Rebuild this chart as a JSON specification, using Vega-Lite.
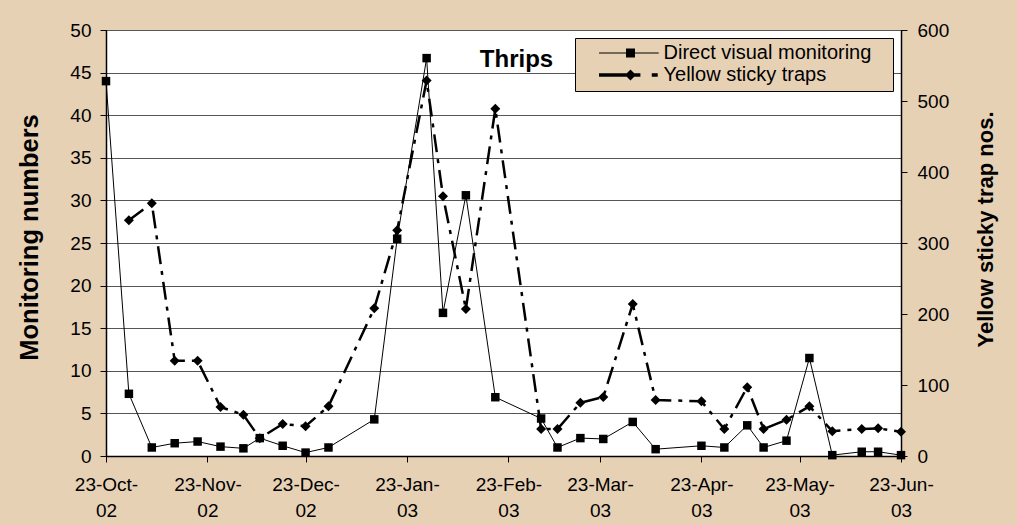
{
  "$schema": "https://vega.github.io/schema/vega-lite/v6.json",
  "width": 795,
  "height": 426,
  "autosize": {"type": "none"},
  "padding": {"left": 106, "top": 30, "right": 116, "bottom": 69},
  "background": "#E7D1B5",
  "config": {
    "font": "Liberation Sans",
    "view": {"fill": "#FFFFFF", "stroke": "#000000", "strokeWidth": 1},
    "axis": {
      "labelFont": "Liberation Sans", "labelFontSize": 19, "labelColor": "#000000",
      "tickColor": "#000000", "domainColor": "#000000", "domainWidth": 1.5, "tickSize": 6, "tickWidth": 1,
      "titleFont": "Liberation Sans", "titleFontSize": 22, "titleFontWeight": "bold", "titleColor": "#000000",
      "labelFlush": false, "labelOverlap": false
    }
  },
  "title": {
    "text": "Thrips", "anchor": "middle", "dx": 13, "offset": -70, "fontSize": 24,
    "font": "Liberation Sans", "fontWeight": "bold", "color": "#000000", "baseline": "alphabetic", "frame": "group"
  },
  "data": {"values": [
    {"date": "2002-10-23", "series": "Direct visual monitoring", "value": 44},
    {"date": "2002-10-30", "series": "Direct visual monitoring", "value": 7.3},
    {"date": "2002-11-06", "series": "Direct visual monitoring", "value": 1.0},
    {"date": "2002-11-13", "series": "Direct visual monitoring", "value": 1.5},
    {"date": "2002-11-20", "series": "Direct visual monitoring", "value": 1.7},
    {"date": "2002-11-27", "series": "Direct visual monitoring", "value": 1.1},
    {"date": "2002-12-04", "series": "Direct visual monitoring", "value": 0.9},
    {"date": "2002-12-09", "series": "Direct visual monitoring", "value": 2.1},
    {"date": "2002-12-16", "series": "Direct visual monitoring", "value": 1.2},
    {"date": "2002-12-23", "series": "Direct visual monitoring", "value": 0.4},
    {"date": "2002-12-30", "series": "Direct visual monitoring", "value": 1.0},
    {"date": "2003-01-13", "series": "Direct visual monitoring", "value": 4.3},
    {"date": "2003-01-20", "series": "Direct visual monitoring", "value": 25.5},
    {"date": "2003-01-29", "series": "Direct visual monitoring", "value": 46.7},
    {"date": "2003-02-03", "series": "Direct visual monitoring", "value": 16.8},
    {"date": "2003-02-10", "series": "Direct visual monitoring", "value": 30.6},
    {"date": "2003-02-19", "series": "Direct visual monitoring", "value": 6.9},
    {"date": "2003-03-05", "series": "Direct visual monitoring", "value": 4.4},
    {"date": "2003-03-10", "series": "Direct visual monitoring", "value": 1.0},
    {"date": "2003-03-17", "series": "Direct visual monitoring", "value": 2.1},
    {"date": "2003-03-24", "series": "Direct visual monitoring", "value": 2.0},
    {"date": "2003-04-02", "series": "Direct visual monitoring", "value": 4.0},
    {"date": "2003-04-09", "series": "Direct visual monitoring", "value": 0.8},
    {"date": "2003-04-23", "series": "Direct visual monitoring", "value": 1.2},
    {"date": "2003-04-30", "series": "Direct visual monitoring", "value": 1.0},
    {"date": "2003-05-07", "series": "Direct visual monitoring", "value": 3.6},
    {"date": "2003-05-12", "series": "Direct visual monitoring", "value": 1.0},
    {"date": "2003-05-19", "series": "Direct visual monitoring", "value": 1.8},
    {"date": "2003-05-26", "series": "Direct visual monitoring", "value": 11.5},
    {"date": "2003-06-02", "series": "Direct visual monitoring", "value": 0.1},
    {"date": "2003-06-11", "series": "Direct visual monitoring", "value": 0.5},
    {"date": "2003-06-16", "series": "Direct visual monitoring", "value": 0.5},
    {"date": "2003-06-23", "series": "Direct visual monitoring", "value": 0.1},
    {"date": "2002-10-30", "series": "Yellow sticky traps", "value": 332},
    {"date": "2002-11-06", "series": "Yellow sticky traps", "value": 356},
    {"date": "2002-11-13", "series": "Yellow sticky traps", "value": 134},
    {"date": "2002-11-20", "series": "Yellow sticky traps", "value": 134},
    {"date": "2002-11-27", "series": "Yellow sticky traps", "value": 69},
    {"date": "2002-12-04", "series": "Yellow sticky traps", "value": 58},
    {"date": "2002-12-09", "series": "Yellow sticky traps", "value": 25},
    {"date": "2002-12-16", "series": "Yellow sticky traps", "value": 45},
    {"date": "2002-12-23", "series": "Yellow sticky traps", "value": 42},
    {"date": "2002-12-30", "series": "Yellow sticky traps", "value": 70},
    {"date": "2003-01-13", "series": "Yellow sticky traps", "value": 208},
    {"date": "2003-01-20", "series": "Yellow sticky traps", "value": 318},
    {"date": "2003-01-29", "series": "Yellow sticky traps", "value": 529},
    {"date": "2003-02-03", "series": "Yellow sticky traps", "value": 366},
    {"date": "2003-02-10", "series": "Yellow sticky traps", "value": 207},
    {"date": "2003-02-19", "series": "Yellow sticky traps", "value": 489},
    {"date": "2003-03-05", "series": "Yellow sticky traps", "value": 38},
    {"date": "2003-03-10", "series": "Yellow sticky traps", "value": 38},
    {"date": "2003-03-17", "series": "Yellow sticky traps", "value": 75},
    {"date": "2003-03-24", "series": "Yellow sticky traps", "value": 83},
    {"date": "2003-04-02", "series": "Yellow sticky traps", "value": 214},
    {"date": "2003-04-09", "series": "Yellow sticky traps", "value": 79},
    {"date": "2003-04-23", "series": "Yellow sticky traps", "value": 77},
    {"date": "2003-04-30", "series": "Yellow sticky traps", "value": 38},
    {"date": "2003-05-07", "series": "Yellow sticky traps", "value": 97},
    {"date": "2003-05-12", "series": "Yellow sticky traps", "value": 38},
    {"date": "2003-05-19", "series": "Yellow sticky traps", "value": 51},
    {"date": "2003-05-26", "series": "Yellow sticky traps", "value": 70},
    {"date": "2003-06-02", "series": "Yellow sticky traps", "value": 35},
    {"date": "2003-06-11", "series": "Yellow sticky traps", "value": 38},
    {"date": "2003-06-16", "series": "Yellow sticky traps", "value": 39},
    {"date": "2003-06-23", "series": "Yellow sticky traps", "value": 34}
  ]},
  "encoding": {
    "x": {
      "field": "date", "type": "temporal",
      "scale": {"type": "utc", "domain": [
        {"year": 2002, "month": 10, "date": 23, "utc": true},
        {"year": 2003, "month": 6, "date": 23, "utc": true}
      ]},
      "axis": {
        "title": null, "grid": false,
        "values": [
          {"year": 2002, "month": 10, "date": 23, "utc": true},
          {"year": 2002, "month": 11, "date": 23, "utc": true},
          {"year": 2002, "month": 12, "date": 23, "utc": true},
          {"year": 2003, "month": 1, "date": 23, "utc": true},
          {"year": 2003, "month": 2, "date": 23, "utc": true},
          {"year": 2003, "month": 3, "date": 23, "utc": true},
          {"year": 2003, "month": 4, "date": 23, "utc": true},
          {"year": 2003, "month": 5, "date": 23, "utc": true},
          {"year": 2003, "month": 6, "date": 23, "utc": true}
        ],
        "labelExpr": "[utcFormat(datum.value, '%d-%b-'), utcFormat(datum.value, '%y')]",
        "labelPadding": 13, "labelLineHeight": 26
      }
    }
  },
  "layer": [
    {
      "transform": [{"filter": "datum.series === 'Direct visual monitoring'"}],
      "encoding": {
        "y": {
          "field": "value", "type": "quantitative",
          "scale": {"domain": [0, 50], "nice": false},
          "axis": {
            "title": "Monitoring numbers", "orient": "left",
            "values": [0, 5, 10, 15, 20, 25, 30, 35, 40, 45, 50],
            "grid": true, "gridColor": "#555555", "gridWidth": 1,
            "labelPadding": 9, "titlePadding": 27, "titleFontSize": 25.5, "titleY": 207
          }
        }
      },
      "layer": [
        {"mark": {"type": "line", "color": "#000000", "strokeWidth": 1}},
        {"mark": {"type": "point", "shape": "square", "filled": true, "color": "#000000", "size": 72, "opacity": 1}}
      ]
    },
    {
      "transform": [{"filter": "datum.series === 'Yellow sticky traps'"}],
      "encoding": {
        "y": {
          "field": "value", "type": "quantitative",
          "scale": {"domain": [0, 600], "nice": false},
          "axis": {
            "title": "Yellow sticky trap nos.", "orient": "right",
            "values": [0, 100, 200, 300, 400, 500, 600],
            "grid": false, "labelPadding": 10, "titlePadding": 27,
            "titleAngle": 270, "titleBaseline": "top", "titleY": 199
          }
        }
      },
      "layer": [
        {"mark": {"type": "line", "color": "#000000", "strokeWidth": 2.5, "strokeDash": [18, 7, 4, 7]}},
        {"mark": {"type": "point", "shape": "diamond", "filled": true, "color": "#000000", "size": 100, "opacity": 1}}
      ]
    },
    {
      "transform": [{"filter": "datum.value < -1"}],
      "mark": {"type": "point", "filled": true, "color": "#000000", "opacity": 1},
      "encoding": {
        "shape": {
          "field": "series", "type": "nominal",
          "scale": {
            "domain": ["Direct visual monitoring", "Yellow sticky traps"],
            "range": [
              "M-0.636,-0.012H0.57V0.012H-0.636Z M-0.091,-0.091H0.091V0.091H-0.091Z",
              "M-0.636,-0.033H0.2V0.033H-0.636Z M0,-0.111L0.111,0L0,0.111L-0.111,0Z M0.43,-0.033H0.55V0.033H0.43Z"
            ]
          },
          "legend": {
            "title": null, "orient": "top-right", "offset": 8, "padding": 6,
            "fillColor": "#E7D1B5", "strokeColor": "#000000",
            "symbolSize": 9801, "clipHeight": 18, "rowPadding": 2,
            "symbolFillColor": "#000000", "symbolStrokeWidth": 0,
            "labelFont": "Liberation Sans", "labelFontSize": 20, "labelColor": "#000000",
            "labelOffset": -16.5, "labelLimit": 400,
            "labelExpr": "datum.label + '\u2800'"
          }
        }
      }
    }
  ],
  "resolve": {"scale": {"y": "independent"}, "axis": {"y": "independent"}}
}
